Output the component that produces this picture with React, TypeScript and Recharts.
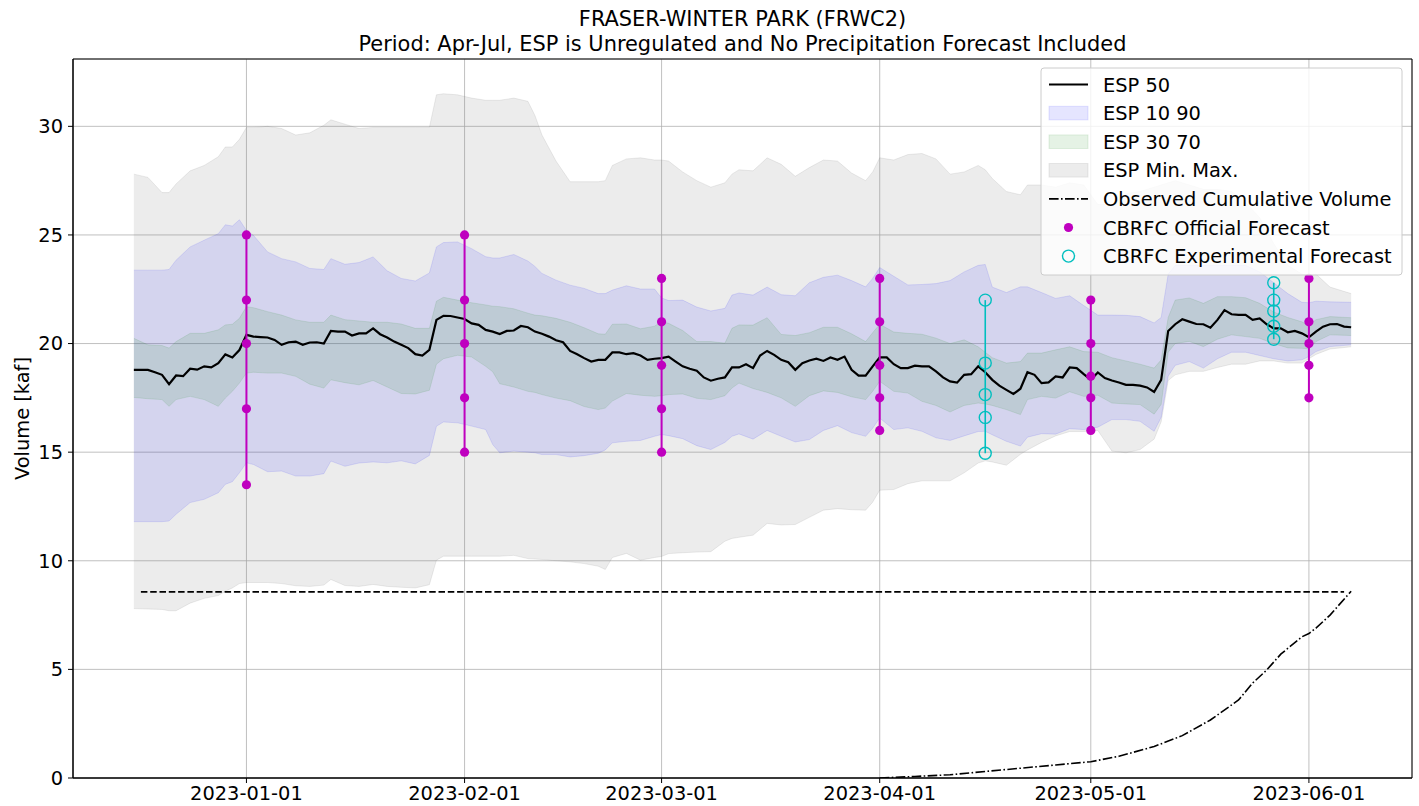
import React from 'react';
import { ComposedChart, Area, Line, Scatter, XAxis, YAxis, CartesianGrid, ReferenceArea } from 'recharts';

const FONT = '"DejaVu Sans", Verdana, sans-serif';
const FS = 19.4;
const TITLE_FS = 20.9;

// x values are days counted from 2023-01-01
const tickDays = [0, 31, 59, 90, 120, 151];
const tickLabels = ['2023-01-01', '2023-02-01', '2023-03-01', '2023-04-01', '2023-05-01', '2023-06-01'];
const yTicks = [0, 5, 10, 15, 20, 25, 30];
const xDomain: [number, number] = [-24.65, 165.65];
const yDomain: [number, number] = [0, 33.1];

const titleLines = ['FRASER-WINTER PARK (FRWC2)', 'Period: Apr-Jul, ESP is Unregulated and No Precipitation Forecast Included'];
const yLabel = 'Volume [kaf]';

const bandDays = [
  -16, -14, -12, -11, -10, -8, -6, -4, -3, -2,
  -1, 0, 1, 3, 5, 7, 9, 11, 12, 14,
  16, 18, 20, 22, 24, 26, 27, 28, 30, 32,
  34, 35, 36, 38, 40, 41, 42, 44, 46, 48,
  50, 51, 52, 54, 56, 58, 59, 60, 62, 64,
  66, 68, 69, 70, 72, 74, 76, 78, 80, 82,
  84, 86, 88, 89, 90, 92, 94, 96, 98, 100,
  102, 104, 105, 106, 108, 110, 111, 113, 115, 117,
  119, 121, 123, 125, 127, 129, 130, 131, 132, 134,
  136, 138, 140, 142, 144, 146, 148, 150, 151, 152,
  154, 157,
];
const bandMax = [
  27.8, 27.65, 26.95, 26.95, 27.35, 27.95, 28.2, 28.6, 29.05, 29.05,
  29.4, 29.95, 29.95, 30.0, 29.9, 29.6, 29.7, 30.05, 30.3, 30.1,
  29.9, 29.95, 29.95, 29.95, 29.95, 29.95, 31.45, 31.5, 31.45, 31.3,
  31.2, 31.2, 31.2, 31.3, 31.15, 30.5, 29.6, 28.4, 27.45, 27.45,
  27.45, 27.5, 28.2, 28.5, 28.55, 28.45, 28.45, 28.4, 27.9, 27.5,
  27.2, 27.4, 27.8, 28.0, 27.95, 28.55, 28.25, 27.7, 28.1, 28.45,
  28.4, 27.85, 27.5, 27.9, 28.55, 28.45, 28.7, 28.75, 28.5, 27.8,
  27.9, 28.2, 28.0, 27.6, 27.0, 26.85, 27.3, 27.3, 27.2, 27.4,
  27.3, 26.4, 26.4, 26.9, 27.0, 27.2, 27.3, 27.4, 27.5, 27.3,
  27.1, 27.1, 27.0, 26.5, 25.8, 24.6, 23.6, 23.2, 23.1, 23.2,
  22.6, 22.3,
];
const bandMin = [
  7.8, 7.78, 7.76, 7.7, 7.7, 8.05, 8.27, 8.4, 8.6, 8.75,
  8.95, 9.0, 9.0, 9.0, 8.95, 8.85, 8.82, 8.88, 9.14, 8.86,
  8.82, 8.91, 8.82, 8.78, 8.75, 8.9, 10.03, 10.21, 10.21, 10.21,
  10.21, 10.21, 10.21, 10.25, 10.1, 10.08, 10.06, 10.0, 9.95, 9.87,
  9.75, 9.6, 10.15, 10.34, 10.03, 10.15, 10.2, 10.33, 10.37, 10.4,
  10.42, 10.9, 11.03, 11.08, 11.18, 11.72, 11.65, 11.67, 12.0, 12.33,
  12.4, 12.35, 12.33, 12.7, 13.25, 13.28, 13.55, 13.68, 13.68, 13.68,
  14.05, 14.5, 14.6, 14.55, 14.4, 14.9, 15.1, 15.45, 15.75, 15.95,
  15.95, 16.0, 15.05, 14.97, 15.12, 15.6, 16.4, 18.3, 18.56, 18.72,
  18.72, 18.9, 19.05, 19.05, 19.2, 19.2, 19.1, 19.1, 19.3, 19.5,
  19.75, 19.85,
];
const bandP10 = [
  11.8, 11.8, 11.8, 11.83, 12.14, 12.68, 12.83, 13.13, 13.52, 13.64,
  14.05, 14.51, 14.43, 14.1, 14.13, 13.9, 13.9, 14.01, 14.59, 14.35,
  14.5, 14.55, 14.51, 14.6, 14.46, 14.85, 16.19, 16.39, 16.35, 16.2,
  16.04, 15.35, 14.97, 15.05, 15.0, 14.97, 14.89, 14.89, 14.78, 14.84,
  14.95, 15.1, 15.43, 15.5, 15.54, 15.73, 15.81, 15.76, 15.62, 15.3,
  15.12, 15.45, 15.73, 15.84, 15.6, 16.0, 15.73, 15.47, 15.58, 16.0,
  16.22, 15.9, 15.73, 16.1, 16.57, 16.04, 16.12, 15.96, 15.66, 15.54,
  15.75, 15.95, 15.96, 15.8, 15.5, 15.28, 15.69, 15.85, 15.83, 16.08,
  16.04, 16.15, 16.5, 16.5, 16.42, 15.96, 16.6, 18.5, 19.0, 19.17,
  18.87, 19.3, 19.6, 19.6, 19.45, 19.3, 19.2, 19.25, 19.4, 19.63,
  19.86, 19.94,
];
const bandP30 = [
  17.52, 17.46, 17.42, 17.11, 17.42, 17.57, 17.42, 17.11, 17.49, 17.8,
  18.18, 18.64, 18.68, 18.64, 18.64, 18.49, 18.13, 17.95, 18.33, 18.2,
  18.1, 18.3, 18.0, 17.7, 17.68, 17.85, 19.05, 19.3, 19.46, 19.38,
  18.95, 18.7, 18.15, 18.0, 17.8, 17.75, 17.65, 17.49, 17.37, 17.1,
  16.96, 17.03, 17.35, 17.7, 17.62, 17.57, 17.6, 17.65, 17.68, 17.48,
  17.42, 17.6, 17.95, 18.18, 17.93, 17.75, 17.5, 17.11, 17.6, 17.82,
  17.75, 17.55, 17.42, 17.8, 18.26, 17.8, 17.72, 17.34, 17.15, 16.85,
  17.15, 17.26, 17.22, 17.15, 16.96, 16.73, 17.42, 17.57, 17.49, 17.78,
  17.57, 17.62, 17.26, 17.22, 17.19, 16.75, 17.2, 19.6, 20.0, 20.1,
  19.86, 20.2, 20.4, 20.32, 20.24, 20.0, 19.8, 19.78, 19.76, 20.09,
  20.4, 20.37,
];
const bandP70 = [
  20.24, 19.94, 19.91, 19.79, 20.09, 20.47, 20.47, 20.63, 20.86, 20.89,
  21.16, 21.7, 21.65, 21.47, 21.31, 21.09, 20.98, 20.98, 21.31, 21.1,
  21.04, 20.98, 20.98, 20.9, 20.7, 20.7, 21.95, 22.13, 22.0, 21.88,
  21.78, 21.72, 21.7, 21.6, 21.4, 21.31, 21.28, 21.16, 20.98, 20.73,
  20.45, 20.43, 20.89, 20.9, 20.68, 20.8, 21.01, 20.93, 20.6, 20.09,
  20.09, 20.02, 20.7, 20.86, 20.85, 21.19, 20.42, 20.37, 20.5, 20.75,
  20.75, 20.45, 20.09, 20.5, 20.89, 20.53, 20.47, 20.43, 20.25, 20.0,
  20.17, 19.85, 19.6, 19.35, 19.1, 19.17, 19.56, 19.56, 19.71, 19.85,
  19.63, 19.6, 19.35, 19.2, 19.05, 18.87, 19.25, 21.2, 22.0, 22.1,
  21.85, 22.16, 22.16, 22.11, 21.85, 21.45, 21.2, 21.0, 20.83, 21.1,
  21.24, 21.19,
];
const bandP90 = [
  23.38, 23.38, 23.38, 23.41, 23.84, 24.45, 24.76, 25.06, 25.47, 25.41,
  25.7, 25.21, 24.98, 24.22, 23.91, 23.76, 23.46, 23.41, 23.91, 23.65,
  23.73, 23.99, 23.35, 23.0, 22.88, 23.25, 24.45, 24.65, 24.68, 24.37,
  24.0, 23.94, 23.94, 24.1, 23.8, 23.55, 23.23, 22.92, 22.69, 22.54,
  22.3, 22.3, 22.46, 22.66, 22.51, 22.51, 22.1, 21.98, 22.0, 21.68,
  21.5, 21.62, 22.23, 22.33, 22.23, 22.6, 22.25, 22.2, 22.8, 23.05,
  23.15, 22.9, 22.61, 23.0, 23.5, 23.1, 22.7, 22.72, 22.76, 22.9,
  23.3, 23.6, 23.64, 22.6, 22.35, 22.61, 22.61, 22.35, 22.08, 22.2,
  21.75, 21.31, 21.31, 21.3, 21.24, 20.95, 21.2, 23.2, 23.6, 23.6,
  23.6, 23.6, 23.6, 23.6, 23.3, 22.8, 22.3, 21.9, 21.88, 21.95,
  21.92, 21.9,
];

const medianStartDay = -16;
const medianValues = [
  18.79, 18.79, 18.79, 18.68, 18.56, 18.13, 18.53, 18.5, 18.84, 18.8,
  18.95, 18.9, 19.1, 19.5, 19.36, 19.7, 20.4, 20.32, 20.3, 20.28,
  20.17, 19.94, 20.06, 20.09, 19.94, 20.05, 20.06, 20.0, 20.58, 20.55,
  20.55, 20.37, 20.47, 20.47, 20.7, 20.43, 20.28, 20.09, 19.94, 19.79,
  19.51, 19.45, 19.71, 21.09, 21.28, 21.27, 21.2, 21.13, 20.93, 20.86,
  20.63, 20.55, 20.44, 20.58, 20.6, 20.81, 20.75, 20.55, 20.45, 20.32,
  20.15, 20.06, 19.66, 19.51, 19.33, 19.17, 19.25, 19.25, 19.59, 19.59,
  19.51, 19.56, 19.45, 19.25, 19.3, 19.33, 19.4, 19.17, 18.95, 18.84,
  18.75, 18.44, 18.29, 18.38, 18.44, 18.9, 18.9, 19.05, 18.87, 19.45,
  19.66, 19.48, 19.25, 19.14, 18.79, 19.1, 19.22, 19.3, 19.2, 19.36,
  19.25, 19.4, 18.79, 18.52, 18.52, 18.95, 19.36, 19.36, 19.05, 18.87,
  18.87, 18.98, 18.95, 18.95, 18.72, 18.44, 18.26, 18.2, 18.56, 18.59,
  18.95, 18.68, 18.33, 18.06, 17.87, 17.68, 17.92, 18.68, 18.56, 18.18,
  18.21, 18.49, 18.44, 18.9, 18.87, 18.59, 18.33, 18.67, 18.41, 18.3,
  18.21, 18.1, 18.1, 18.06, 17.98, 17.77, 18.33, 20.58, 20.89, 21.12,
  21.01, 20.9, 20.89, 20.73, 21.09, 21.54, 21.35, 21.32, 21.32, 21.09,
  21.16, 20.89, 20.7, 20.7, 20.52, 20.58, 20.47, 20.29, 20.55, 20.78,
  20.89, 20.9, 20.78, 20.75,
];

const observedDays = [90, 95, 100, 105, 110, 115, 120, 124, 129, 133, 137, 141, 143, 145, 147, 150, 151, 152, 154, 157];
const observedValues = [0.0, 0.07, 0.15, 0.3, 0.45, 0.6, 0.75, 1.0, 1.45, 1.95, 2.67, 3.59, 4.37, 4.97, 5.7, 6.5, 6.65, 6.9, 7.5, 8.6];

const dashedDays = [-15, 156];
const dashedValue = 8.57;

const officialDays = [0, 31, 59, 90, 120, 151];
const officialValues = [
  [13.5, 17, 20, 22, 25],
  [15, 17.5, 20, 22, 25],
  [15, 17, 19, 21, 23],
  [16, 17.5, 19, 21, 23],
  [16, 17.5, 18.5, 20, 22],
  [17.5, 19, 20, 21, 23],
];
const experimentalDays = [105, 146];
const experimentalValues = [
  [14.95, 16.6, 17.65, 19.1, 22.0],
  [20.2, 20.8, 21.5, 22.0, 22.8],
];

const legendLabels = [
  'ESP 50',
  'ESP 10 90',
  'ESP 30 70',
  'ESP Min. Max.',
  'Observed Cumulative Volume',
  'CBRFC Official Forecast',
  'CBRFC Experimental Forecast',
];

const MAGENTA = '#bf00bf';
const CYAN = '#00bfbf';

const bandRows = bandDays.map((d, i) => ({
  d,
  mm: [bandMin[i], bandMax[i]],
  p1090: [bandP10[i], bandP90[i]],
  p3070: [bandP30[i], bandP70[i]],
}));
const medianRows = medianValues.map((v, i) => ({ d: medianStartDay + i, v }));
const observedRows = observedDays.map((d, i) => ({ d, v: observedValues[i] }));
const dashedRows = dashedDays.map((d) => ({ d, v: dashedValue }));
const officialGroups = officialDays.map((d, gi) => officialValues[gi].map((v) => ({ d, v })));
const experimentalGroups = experimentalDays.map((d, gi) => experimentalValues[gi].map((v) => ({ d, v })));

const tickStyle = { fill: '#000', fontSize: FS, fontFamily: FONT };

const OfficialDot = (p: any) => <circle cx={p.cx} cy={p.cy} r={4.6} fill={MAGENTA} />;
const ExperimentalDot = (p: any) => (
  <circle cx={p.cx} cy={p.cy} r={6} fill="none" stroke={CYAN} strokeWidth={1.4} />
);

function LegendOverlay() {
  const x0 = 1041;
  const y0 = 68;
  const rowH = 28.6;
  const first = 84.5;
  const hx1 = 1049;
  const hx2 = 1088;
  const tx = 1103;
  return (
    <g>
      <rect x={x0} y={y0} width={361} height={207} rx={3} fill="#fff" fillOpacity={0.8} stroke="#cccccc" strokeWidth={1} />
      {legendLabels.map((lab, i) => {
        const cy = first + i * rowH;
        let handle: React.ReactNode = null;
        if (i === 0) handle = <line x1={hx1} x2={hx2} y1={cy} y2={cy} stroke="#000" strokeWidth={2.2} />;
        if (i === 1)
          handle = <rect x={hx1} y={cy - 6.8} width={hx2 - hx1} height={13.6} fill="blue" fillOpacity={0.1} stroke="blue" strokeOpacity={0.1} />;
        if (i === 2)
          handle = <rect x={hx1} y={cy - 6.8} width={hx2 - hx1} height={13.6} fill="green" fillOpacity={0.1} stroke="green" strokeOpacity={0.1} />;
        if (i === 3)
          handle = <rect x={hx1} y={cy - 6.8} width={hx2 - hx1} height={13.6} fill="#808080" fillOpacity={0.15} stroke="#808080" strokeOpacity={0.15} />;
        if (i === 4)
          handle = <line x1={hx1} x2={hx2} y1={cy} y2={cy} stroke="#000" strokeWidth={1.6} strokeDasharray="9.6 2.4 1.6 2.4" />;
        if (i === 5) handle = <circle cx={(hx1 + hx2) / 2} cy={cy} r={4.6} fill={MAGENTA} />;
        if (i === 6) handle = <circle cx={(hx1 + hx2) / 2} cy={cy} r={6} fill="none" stroke={CYAN} strokeWidth={1.4} />;
        return (
          <g key={lab}>
            {handle}
            <text x={tx} y={cy + 7} fontSize={FS} fontFamily={FONT} fill="#000">
              {lab}
            </text>
          </g>
        );
      })}
    </g>
  );
}

export default function App() {
  return (
    <div style={{ position: 'absolute', left: 0, top: 0, width: 1419, height: 806, background: '#fff' }}>
      <ComposedChart width={1419} height={806} margin={{ top: 59, right: 7, bottom: 0, left: 13 }}>
        <CartesianGrid stroke="#b0b0b0" strokeWidth={0.8} />
        <XAxis
          type="number"
          dataKey="d"
          domain={xDomain}
          allowDataOverflow
          ticks={tickDays}
          interval={0}
          tickFormatter={(v: number) => tickLabels[tickDays.indexOf(v)] ?? ''}
          height={28}
          tickSize={5}
          tickMargin={3}
          tick={tickStyle}
          stroke="#000"
        />
        <YAxis
          type="number"
          domain={yDomain}
          allowDataOverflow
          ticks={yTicks}
          interval={0}
          width={60}
          tickSize={5}
          tickMargin={5}
          tick={tickStyle}
          stroke="#000"
        />
        <Area data={bandRows} dataKey="mm" type="linear" fill="#808080" fillOpacity={0.15} stroke="#808080" strokeOpacity={0.15} strokeWidth={1} isAnimationActive={false} dot={false} activeDot={false} />
        <Area data={bandRows} dataKey="p1090" type="linear" fill="blue" fillOpacity={0.1} stroke="blue" strokeOpacity={0.1} strokeWidth={1} isAnimationActive={false} dot={false} activeDot={false} />
        <Area data={bandRows} dataKey="p3070" type="linear" fill="green" fillOpacity={0.1} stroke="green" strokeOpacity={0.1} strokeWidth={1} isAnimationActive={false} dot={false} activeDot={false} />
        <Line data={medianRows} dataKey="v" type="linear" stroke="#000" strokeWidth={2.2} dot={false} activeDot={false} isAnimationActive={false} />
        <Line data={dashedRows} dataKey="v" type="linear" stroke="#000" strokeWidth={1.8} strokeDasharray="6.5 2.8" dot={false} activeDot={false} isAnimationActive={false} />
        <Line data={observedRows} dataKey="v" type="linear" stroke="#000" strokeWidth={1.6} strokeDasharray="9.6 2.4 1.6 2.4" dot={false} activeDot={false} isAnimationActive={false} />
        {officialGroups.map((g, i) => (
          <Scatter key={'o' + i} data={g} dataKey="v" line={{ stroke: MAGENTA, strokeWidth: 2 }} shape={OfficialDot} fill={MAGENTA} isAnimationActive={false} />
        ))}
        {experimentalGroups.map((g, i) => (
          <Scatter key={'e' + i} data={g} dataKey="v" line={{ stroke: CYAN, strokeWidth: 1.6 }} shape={ExperimentalDot} fill="none" isAnimationActive={false} />
        ))}
        <ReferenceArea x1={xDomain[0]} x2={xDomain[1]} y1={yDomain[0]} y2={yDomain[1]} fill="none" stroke="#000" strokeWidth={1} ifOverflow="visible" />
      </ComposedChart>
      <svg width={1419} height={806} style={{ position: 'absolute', left: 0, top: 0, pointerEvents: 'none' }}>
        <text x={742.5} y={25.6} textAnchor="middle" fontSize={TITLE_FS} fontFamily={FONT} fill="#000">
          {titleLines[0]}
        </text>
        <text x={742.5} y={50.7} textAnchor="middle" fontSize={TITLE_FS} fontFamily={FONT} fill="#000">
          {titleLines[1]}
        </text>
        <text transform="translate(28.5,418.5) rotate(-90)" textAnchor="middle" fontSize={FS} fontFamily={FONT} fill="#000">
          {yLabel}
        </text>
        <LegendOverlay />
      </svg>
    </div>
  );
}
